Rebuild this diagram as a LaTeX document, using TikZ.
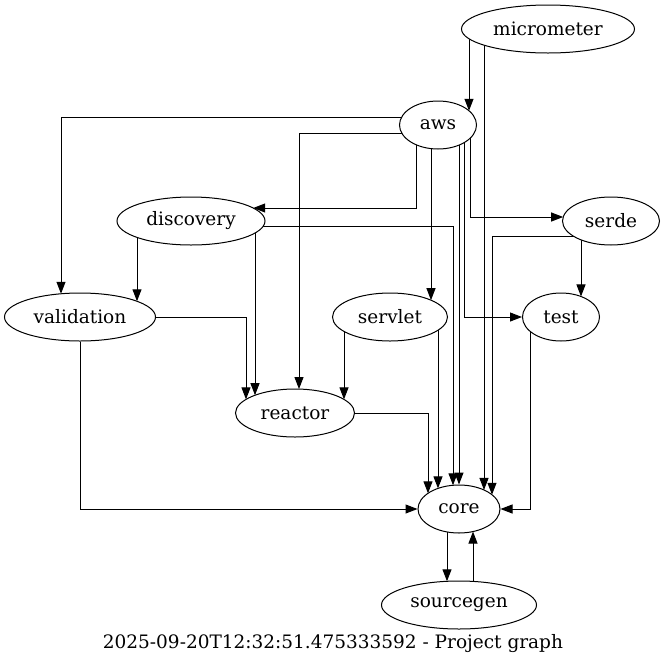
\documentclass[tikz,border=0pt]{standalone}
\usepackage{fontspec}
\setmainfont{DejaVu Serif}
\usetikzlibrary{shapes.geometric,arrows.meta,calc,backgrounds}

\begin{document}
\begin{tikzpicture}[x=1pt,y=-1pt,
    pkg/.style={ellipse, draw, fill=white, line width=1pt, minimum height=48pt, inner sep=0pt, font=\fontsize{18.5}{22}\selectfont},
    dep/.style={line width=1pt, -{Triangle[length=12pt,width=9pt]}},
    declare function={ey(\d,\a)=24*sqrt(1-(\d/\a)^2); ex(\d,\a)=\a*sqrt(1-(\d/24)^2);}]
    \useasboundingbox (0,0) rectangle (665,665);
    % packages
    \foreach \name/\x/\y/\w in {micrometer/548/29/173, aws/438/125/77, discovery/191/221/148,
        serde/611/221/97, validation/80/317/151, servlet/390/317/115, test/561/317/77,
        reactor/295/413/119, core/459/509/82, sourcegen/459/605/155}
        \node[pkg, minimum width=\w pt] (\name) at (\x,\y) {\name};
    \node[font=\fontsize{18.5}{22}\selectfont] (caption) at (333,644) {2025-09-20T12:32:51.475333592 - Project graph};

    \begin{scope}[on background layer]
    % micrometer
    \draw[dep] ($(micrometer)+(-79,0)$) -- ($(aws)+(31,{-ey(31,38.5)})$);
    \draw[dep] ($(micrometer)+(-64,0)$) -- ($(core)+(25,{-ey(25,41)})$);
    % aws
    \draw[dep] ($(aws)+(0,-8)$) -| ($(validation)+(-19,{-ey(-19,75.5)})$);
    \draw[dep] ($(aws)+(0,8)$) -| ($(reactor)+(4,{-ey(4,59.5)})$);
    \draw[dep] ($(aws)+(-22,0)$) |- ($(discovery)+({ex(-13,74)},-13)$);
    \draw[dep] ($(aws)+(-7,0)$) -- ($(servlet)+(41,{-ey(41,57.5)})$);
    \draw[dep] ($(aws)+(21,0)$) -- (core.north);
    \draw[dep] ($(aws)+(26,0)$) |- (test);
    \draw[dep] ($(aws)+(32,0)$) |- ($(serde)+({-ex(-4,48.5)},-4)$);
    % discovery
    \draw[dep] ($(discovery)+(-54,0)$) -- ($(validation)+(57,{-ey(57,75.5)})$);
    \draw[dep] ($(discovery)+(64,0)$) -- ($(reactor)+(-40,{-ey(-40,59.5)})$);
    \draw[dep] ($(discovery)+(0,5)$) -| ($(core)+(-6,{-ey(-6,41)})$);
    % validation
    \draw[dep] (validation) -| ($(reactor)+(-49,{-ey(-49,59.5)})$);
    \draw[dep] (validation) |- (core);
    % servlet
    \draw[dep] ($(servlet)+(-46,0)$) -- ($(reactor)+(49,{-ey(49,59.5)})$);
    \draw[dep] ($(servlet)+(48,0)$) -- ($(core)+(-21,{-ey(-21,41)})$);
    % reactor
    \draw[dep] (reactor) -| ($(core)+(-31,{-ey(-31,41)})$);
    % serde
    \draw[dep] ($(serde)+(-30,0)$) -- ($(test)+(20,{-ey(20,38.5)})$);
    \draw[dep] ($(serde)+(0,15)$) -| ($(core)+(33,{-ey(33,41)})$);
    % test
    \draw[dep] ($(test)+(-31,0)$) |- (core);
    % core <-> sourcegen
    \draw[dep] ($(core)+(-12,0)$) -- ($(sourcegen)+(-12,{-ey(-12,77.5)})$);
    \draw[dep] ($(sourcegen)+(14,0)$) -- ($(core)+(14,{ey(14,41)})$);
    \end{scope}
\end{tikzpicture}
\end{document}
